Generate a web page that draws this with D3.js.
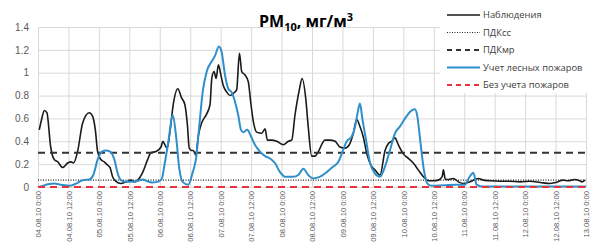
<!DOCTYPE html>
<html>
<head>
<meta charset="utf-8">
<script src="https://cdn.jsdelivr.net/npm/d3@7"></script>
<style>
  body { margin: 0; background: #fff; }
  svg { font-family: "Open Sans", "Noto Sans", sans-serif; }
</style>
</head>
<body>
<div id="chart"></div>
<script>
// tick labels along x (every 12 hours from 04.08.10 0:00)
var xLabels = ["04.08.10 0:00", "04.08.10 12:00", "05.08.10 0:00", "05.08.10 12:00",
  "06.08.10 0:00", "06.08.10 12:00", "07.08.10 0:00", "07.08.10 12:00",
  "08.08.10 0:00", "08.08.10 12:00", "09.08.10 0:00", "09.08.10 12:00",
  "10.08.10 0:00", "10.08.10 12:00", "11.08.10 0:00", "11.08.10 12:00",
  "12.08.10 0:00", "12.08.10 12:00", "13.08.10 0:00"];
var yTicks = [0, 0.2, 0.4, 0.6, 0.8, 1, 1.2, 1.4];

// observations: hours since 04.08.10 0:00 and mg/m3
var obsHours = [0.5, 1.5, 2.5, 3.5, 5, 6.4, 7.8, 9.7, 11.7, 13, 14, 15.6, 17.6, 20.2, 21.5, 22.6, 23.5,
  24.8, 26.1, 27.5, 28.4, 29.4, 30.7, 32.7, 34.7, 36.7, 38, 39.3, 41.3, 43.2, 44.5, 46.5, 48.5,
  49.2, 50.2, 50.9, 52, 53.3, 55.1, 56.6, 57.9, 58.9, 59.6, 60.6, 61.2, 62.2, 63.2, 64.5, 66.5,
  67.8, 68.5, 69.4, 70.2, 71.1, 72, 73, 74.4, 75.7, 77, 78.3, 79.4, 80.3, 81.6, 82.9, 83.8, 84.9,
  86.2, 88.2, 89.5, 90.4, 92.1, 94.1, 96.7, 98.7, 100, 101.3, 103, 104.1, 105.6, 106.5, 107.9,
  109.2, 110.5, 113.1, 115.1, 117.1, 119, 121, 122.7, 124.3, 125.6, 126.9, 128.2, 129.6, 131.5,
  132.8, 134.8, 136.8, 138.1, 139.4, 140.7, 142, 144, 146, 147.9, 149.9, 151.9, 153.9, 155.8,
  157.8, 159.3, 159.8, 160.5, 161.5, 163.7, 165.7, 167.7, 170.3, 173.6, 175.5, 178, 182, 186,
  190, 194, 198, 201.8, 204, 207, 209, 211.5, 213, 214.3, 215.6];
var obsValues = [0.50, 0.60, 0.67, 0.65, 0.35, 0.24, 0.22, 0.17, 0.21, 0.22, 0.21, 0.31, 0.56, 0.65, 0.62, 0.50, 0.31,
  0.24, 0.22, 0.19, 0.17, 0.09, 0.05, 0.03, 0.045, 0.06, 0.045, 0.06, 0.13, 0.24, 0.30, 0.31, 0.35,
  0.40, 0.36, 0.34, 0.48, 0.72, 0.86, 0.78, 0.72, 0.54, 0.34, 0.32, 0.32, 0.28, 0.45, 0.56, 0.64,
  0.72, 0.95, 1.01, 0.95, 1.07, 0.99, 0.89, 0.83, 0.80, 0.82, 0.85, 1.17, 1.01, 0.98, 0.92, 0.75, 0.57,
  0.48, 0.47, 0.51, 0.41, 0.41, 0.40, 0.37, 0.40, 0.41, 0.63, 0.85, 0.95, 0.76, 0.53, 0.27,
  0.27, 0.31, 0.41, 0.41, 0.40, 0.35, 0.34, 0.37, 0.47, 0.59, 0.53, 0.44, 0.29, 0.18,
  0.15, 0.105, 0.32, 0.38, 0.40, 0.43, 0.37, 0.29, 0.25, 0.21, 0.15, 0.09, 0.055, 0.055,
  0.06, 0.09, 0.15, 0.07, 0.065, 0.075, 0.045, 0.03, 0.045, 0.075, 0.06, 0.055, 0.05, 0.05,
  0.045, 0.05, 0.04, 0.03, 0.04, 0.06, 0.055, 0.065, 0.06, 0.045, 0.06];

// model with forest fires
var fireHours = [0, 1.8, 4, 6.4, 9, 12.4, 15, 17.6, 20.2, 21.8, 23.5, 25.2, 26.8, 28.4, 30.1, 31.4, 32.7,
  34.7, 38.6, 41.3, 43.2, 44.8, 47, 48.8, 49.6, 51.4, 53.1, 54.4, 55.7, 57, 59.2, 61, 62.3, 63.6,
  64.9, 66.5, 68.5, 69.8, 71.3, 72.4, 73.7, 75, 76.3, 77.6, 79, 80, 80.9, 82.5, 83.8, 85.5, 87.5,
  89.5, 91.4, 93.4, 95.4, 97.4, 100.6, 102.6, 104.6, 106.5, 108.5, 111.2, 113.8, 116.4, 118.4,
  119.7, 121.7, 123.6, 125, 125.9, 126.9, 127.9, 129.3, 130.9, 132.8, 134.8, 136.8, 138.7, 140.7,
  142.7, 145.3, 147.3, 148.6, 149.5, 150.8, 152.1, 153.5, 155.2, 160, 165, 168.3, 170, 171.6,
  172.9, 175, 216];
var fireValues = [0, 0.01, 0.025, 0.03, 0.02, 0.01, 0.03, 0.06, 0.065, 0.105, 0.24, 0.31, 0.32, 0.31, 0.24, 0.12, 0.06,
  0.045, 0.05, 0.065, 0.05, 0.04, 0.045, 0.07, 0.16, 0.40, 0.63, 0.45, 0.16, 0.045, 0.02, 0.13, 0.25, 0.54,
  0.83, 1.01, 1.10, 1.15, 1.23, 1.18, 0.98, 0.86, 0.83, 0.75, 0.62, 0.50, 0.48, 0.50, 0.45, 0.37, 0.31,
  0.27, 0.25, 0.21, 0.13, 0.09, 0.09, 0.105, 0.16, 0.105, 0.075, 0.09, 0.13, 0.18, 0.22,
  0.29, 0.40, 0.44, 0.53, 0.64, 0.73, 0.59, 0.41, 0.21, 0.12, 0.09, 0.18, 0.32, 0.47,
  0.53, 0.62, 0.67, 0.68, 0.62, 0.38, 0.15, 0.03, 0.01, 0.015, 0.02, 0.02, 0.085, 0.125,
  0.02, 0.005, 0.005];

// model without fires
var noFireHours = [0, 24, 48, 72, 96, 120, 144, 168, 192, 216];
var noFireValues = [0, 0, 0, 0, 0, 0, 0, 0, 0, 0];

// limit values
var pdkSS = 0.06;
var pdkMR = 0.3;

var legendNames = ["Наблюдения", "ПДКсс", "ПДКмр", "Учет лесных пожаров", "Без учета пожаров"];

// set the dimensions and margins of the graph
var margin = {top: 27, right: 6, bottom: 55, left: 38},
    width = 592 - margin.left - margin.right,
    height = 242 - margin.top - margin.bottom;

var svg = d3.select('#chart').append('svg')
  .attr('width', 592)
  .attr('height', 242)
  .style('overflow', 'hidden');

var g = svg.append('g')
  .attr('transform', 'translate(' + margin.left + ',' + margin.top + ')');

var x = d3.scaleLinear().domain([0, 216]).range([0, width]);
var y = d3.scaleLinear().domain([0, 1.4]).range([height, 0]);

// horizontal grid + y labels
var yAxis = g.append('g')
  .call(d3.axisLeft(y).tickValues(yTicks).tickSize(-width).tickPadding(9)
    .tickFormat(function(d){ return String(+d.toFixed(1)); }));
yAxis.select('.domain').remove();
yAxis.selectAll('line').attr('stroke', '#d9d9d9');
yAxis.selectAll('text').attr('fill', '#595959').style('font-size', '10px');

// vertical grid + rotated date labels
var xAxis = g.append('g')
  .attr('transform', 'translate(0,' + height + ')')
  .call(d3.axisBottom(x).tickValues(d3.range(0, 217, 12)).tickSize(-height).tickPadding(0)
    .tickFormat(function(d){ return xLabels[d / 12]; }));
xAxis.select('.domain').attr('stroke', '#d9d9d9');
xAxis.selectAll('line').attr('stroke', '#d9d9d9');
xAxis.selectAll('text')
  .attr('fill', '#595959')
  .style('font-size', '7.6px')
  .attr('text-anchor', 'end')
  .attr('transform', 'rotate(-90)')
  .attr('x', -4)
  .attr('y', 0)
  .attr('dy', '0.35em');

var line = d3.line()
  .x(function(d){ return x(d[0]); })
  .y(function(d){ return y(d[1]); })
  .curve(d3.curveMonotoneX);

function pairs(hs, vs){ return hs.map(function(h, i){ return [h, vs[i]]; }); }

// observations
g.append('path')
  .datum(pairs(obsHours, obsValues))
  .attr('fill', 'none')
  .attr('stroke', '#1a1a1a')
  .attr('stroke-width', 1.6)
  .attr('d', line);

// limit lines
g.append('line')
  .attr('x1', x(0)).attr('x2', x(216))
  .attr('y1', y(pdkSS)).attr('y2', y(pdkSS))
  .attr('stroke', '#222').attr('stroke-width', 1.2).attr('stroke-dasharray', '1,1.5');
g.append('line')
  .attr('x1', x(0)).attr('x2', x(216))
  .attr('y1', y(pdkMR)).attr('y2', y(pdkMR))
  .attr('stroke', '#333').attr('stroke-width', 2).attr('stroke-dasharray', '7,5');

// with fires
g.append('path')
  .datum(pairs(fireHours, fireValues))
  .attr('fill', 'none')
  .attr('stroke', '#2f8fcb')
  .attr('stroke-width', 2)
  .attr('d', line);

// without fires
g.append('path')
  .datum(pairs(noFireHours, noFireValues))
  .attr('fill', 'none')
  .attr('stroke', '#e8323c')
  .attr('stroke-width', 2.2)
  .attr('stroke-dasharray', '7,5')
  .attr('d', line);

// title
var title = svg.append('text')
  .attr('x', 306)
  .attr('y', 27)
  .attr('text-anchor', 'middle')
  .style('font-size', '16px')
  .style('font-weight', 'bold')
  .attr('fill', '#000');
title.append('tspan').text('PM');
title.append('tspan').attr('dy', 4).style('font-size', '11px').text('10');
title.append('tspan').attr('dy', -4).text(', мг/м');
title.append('tspan').attr('dy', -6).style('font-size', '11px').text('3');

// legend
var legend = svg.append('g');
legend.append('rect')
  .attr('x', 440).attr('y', 4).attr('width', 152).attr('height', 89)
  .attr('fill', '#fff');

var legendStyles = [
  {stroke: '#1a1a1a', w: 1.6, dash: null},
  {stroke: '#222', w: 1.2, dash: '1,1.5'},
  {stroke: '#333', w: 2, dash: '5,4'},
  {stroke: '#2f8fcb', w: 2, dash: null},
  {stroke: '#e8323c', w: 2.2, dash: '5,4'}
];

legendNames.forEach(function(name, i){
  var ly = 15 + i * 17.5;
  var s = legendStyles[i];
  legend.append('line')
    .attr('x1', 447).attr('x2', 480)
    .attr('y1', ly).attr('y2', ly)
    .attr('stroke', s.stroke)
    .attr('stroke-width', s.w)
    .attr('stroke-dasharray', s.dash);
  legend.append('text')
    .attr('x', 483).attr('y', ly)
    .attr('dy', '0.35em')
    .style('font-size', '9.4px')
    .attr('fill', '#404040')
    .text(name);
});
</script>
</body>
</html>
